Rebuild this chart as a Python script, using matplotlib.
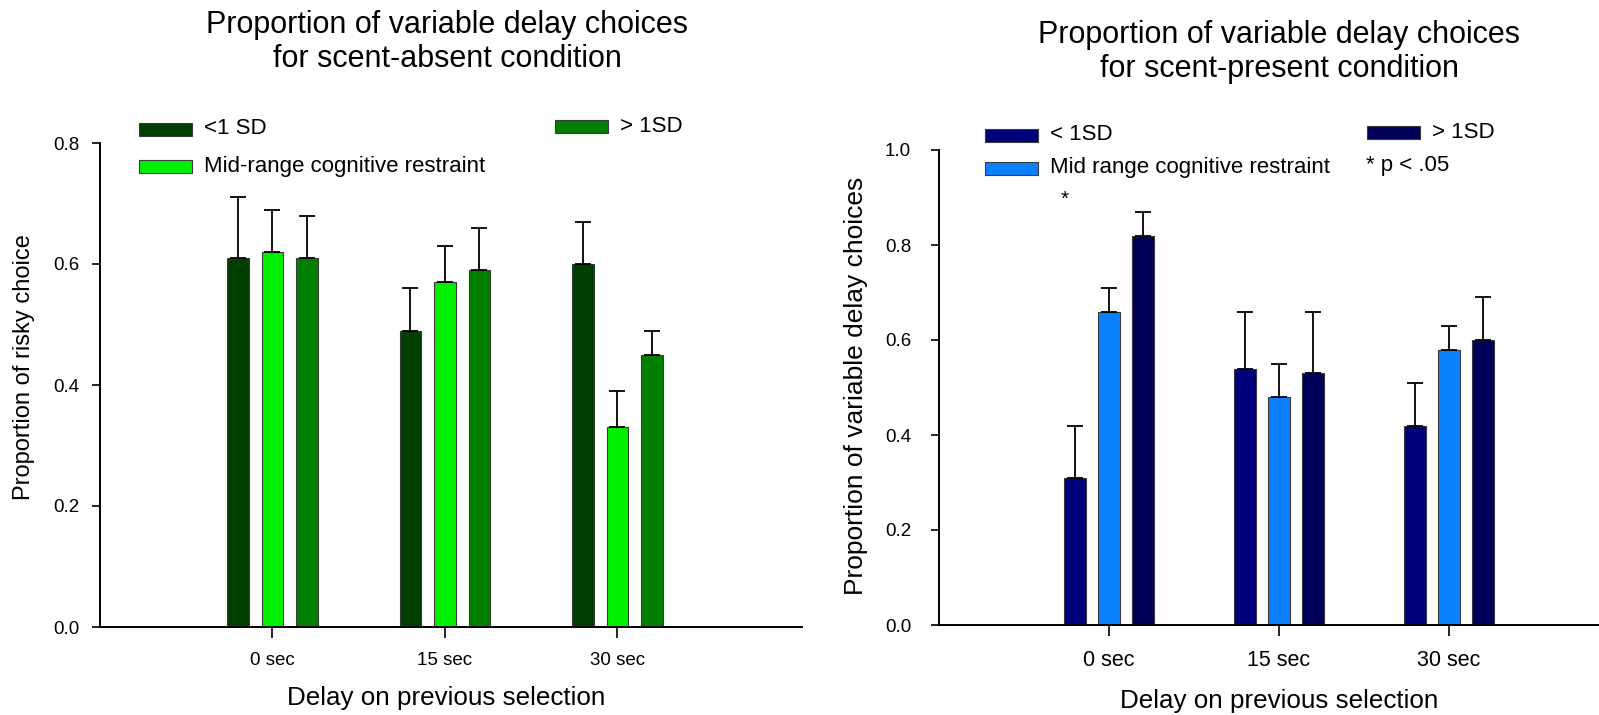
import matplotlib
matplotlib.use("Agg")
import matplotlib.pyplot as plt
from matplotlib.patches import Rectangle
import numpy as np

plt.rcParams['font.family'] = ['Liberation Sans', 'DejaVu Sans']

categories = ["0 sec", "15 sec", "30 sec"]

# Left panel: scent-absent
left_labels = ["<1 SD", "Mid-range cognitive restraint", "> 1SD"]
left_low = [0.61, 0.49, 0.60]
left_mid = [0.62, 0.57, 0.33]
left_high = [0.61, 0.59, 0.45]
left_low_err = [0.10, 0.07, 0.07]
left_mid_err = [0.07, 0.06, 0.06]
left_high_err = [0.07, 0.07, 0.04]
left_colors = ["#003f00", "#00f000", "#007f00"]

# Right panel: scent-present
right_labels = ["< 1SD", "Mid range cognitive restraint", "> 1SD"]
right_low = [0.31, 0.54, 0.42]
right_mid = [0.66, 0.48, 0.58]
right_high = [0.82, 0.53, 0.60]
right_low_err = [0.11, 0.12, 0.09]
right_mid_err = [0.05, 0.07, 0.05]
right_high_err = [0.05, 0.13, 0.09]
right_colors = ["#00007c", "#0a80ff", "#00005a"]

W, H = 1599, 715
fig = plt.figure(figsize=(W / 100, H / 100), dpi=100)

def px_axes(x0, y_bottom_px, width, height):
    return fig.add_axes([x0 / W, (H - y_bottom_px) / H, width / W, height / H])

def draw_panel(ax, series, errs, colors, ylim, yticks, xmax, ypad, xsize):
    x = np.arange(1, len(categories) + 1)
    offsets = [-0.2, 0.0, 0.2]
    for vals, err, col, off in zip(series, errs, colors, offsets):
        ax.bar(x + off, vals, width=0.125, color=col, edgecolor="#3a3a3a",
               linewidth=0.8, zorder=2)
        ax.errorbar(x + off, vals, yerr=[np.zeros(len(vals)), err], fmt="none",
                    ecolor="black", elinewidth=1.3, capsize=5.5, capthick=1.3,
                    zorder=3)
    ax.set_xlim(0, xmax)
    ax.set_ylim(*ylim)
    ax.set_yticks(yticks)
    ax.set_yticklabels([f"{t:.1f}" for t in yticks])
    ax.set_xticks(x)
    ax.set_xticklabels(categories)
    for s in ["top", "right"]:
        ax.spines[s].set_visible(False)
    for s in ["left", "bottom"]:
        ax.spines[s].set_linewidth(1.4)
    ax.tick_params(axis="y", direction="out", length=6, width=1.2, pad=ypad,
                   labelsize=13.5)
    ax.tick_params(axis="x", direction="out", length=8, width=1.2, pad=10,
                   labelsize=xsize)

# Left axes
axL = px_axes(100, 627, 702, 484)
draw_panel(axL, [left_low, left_mid, left_high],
           [left_low_err, left_mid_err, left_high_err], left_colors,
           (0, 0.8), [0.0, 0.2, 0.4, 0.6, 0.8], 4.07, 8.5, 13.5)
axL.set_ylabel("Proportion of risky choice", fontsize=17, va="center", ha="center")
axL.yaxis.set_label_coords(-0.1083, 0.537)
axL.set_xlabel("Delay on previous selection", fontsize=18.7, va="center", ha="center")
axL.xaxis.set_label_coords(0.4929, -0.1457)

# Right axes (x axis runs off the figure edge)
axR = px_axes(939, 625, 680, 475)
draw_panel(axR, [right_low, right_mid, right_high],
           [right_low_err, right_mid_err, right_high_err], right_colors,
           (0, 1.0), [0.0, 0.2, 0.4, 0.6, 0.8, 1.0], 4.0, 14, 15.5)
axR.set_ylabel("Proportion of variable delay choices", fontsize=19, va="center", ha="center")
axR.yaxis.set_label_coords(-0.122, 0.503)
axR.set_xlabel("Delay on previous selection", fontsize=18.7, va="center", ha="center")
axR.xaxis.set_label_coords(0.5, -0.16)
axR.text(0.741, 0.897, "*", ha="center", va="center", fontsize=15)

# Titles
fig.text(447 / W, 1 - 42 / H, "Proportion of variable delay choices\nfor scent-absent condition",
         ha="center", va="center", fontsize=22, linespacing=1.15)
fig.text(1279 / W, 1 - 52 / H, "Proportion of variable delay choices\nfor scent-present condition",
         ha="center", va="center", fontsize=22, linespacing=1.15)

# Legends (manual placement)
def legend_item(x, yc, color, label, pw=53, ph=13, gap=12):
    fig.add_artist(Rectangle((x / W, (H - yc - ph / 2) / H), pw / W, ph / H,
                             transform=fig.transFigure, facecolor=color,
                             edgecolor="#3a3a3a", linewidth=0.8))
    fig.text((x + pw + gap) / W, 1 - yc / H, label, ha="left", va="center",
             fontsize=16)

legend_item(139, 129, left_colors[0], left_labels[0])
legend_item(139, 166.5, left_colors[1], left_labels[1])
legend_item(555, 126.5, left_colors[2], left_labels[2])

legend_item(985, 135, right_colors[0], right_labels[0])
legend_item(985, 168, right_colors[1], right_labels[1])
legend_item(1367, 132.5, right_colors[2], right_labels[2])
fig.text(1366 / W, 1 - 165 / H, "* p < .05", ha="left", va="center", fontsize=16)

fig.savefig("out.png", dpi=100)
